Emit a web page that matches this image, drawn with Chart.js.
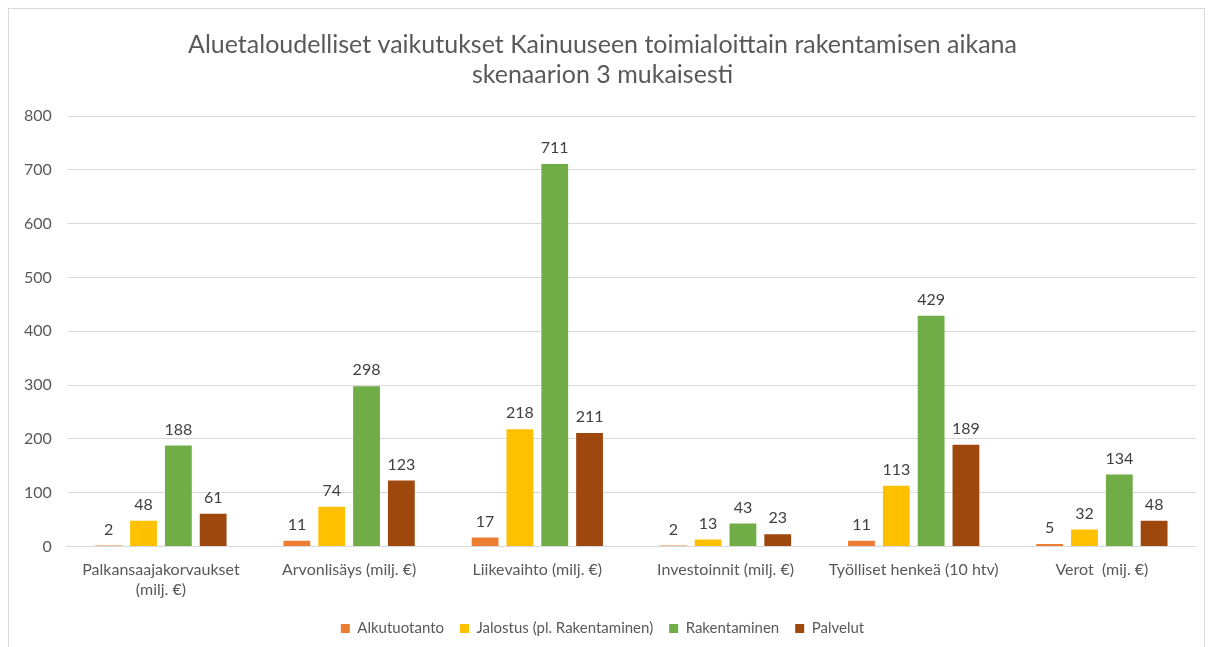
<!DOCTYPE html>
<html>
<head>
<meta charset="utf-8">
<script src="https://cdn.jsdelivr.net/npm/chart.js@4.4.1/dist/chart.umd.min.js"></script>
<style>
  body { margin: 0; background: #fff; overflow: hidden; }
  #box { position: absolute; left: 8px; top: 8px; width: 1197px; height: 645px; border: 1px solid #d9d9d9; box-sizing: border-box; }
  canvas { display: block; }
</style>
</head>
<body>
<div id="box"><canvas id="chart" width="1195" height="638"></canvas></div>
<script>
const categories = [
  ["Palkansaajakorvaukset", "(milj. €)"],
  "Arvonlisäys (milj. €)",
  "Liikevaihto (milj. €)",
  "Investoinnit (milj. €)",
  "Työlliset henkeä (10 htv)",
  "Verot  (mij. €)"
];
const alkutuotanto = [2, 11, 17, 2, 11, 5];
const jalostus = [48, 74, 218, 13, 113, 32];
const rakentaminen = [188, 298, 711, 43, 429, 134];
const palvelut = [61, 123, 211, 23, 189, 48];
const yTicks = [0, 100, 200, 300, 400, 500, 600, 700, 800];

const FONT = "Lato, 'Open Sans', sans-serif";

// value labels above each bar
const valueLabels = {
  id: "valueLabels",
  afterDatasetsDraw(chart) {
    const ctx = chart.ctx;
    ctx.save();
    ctx.font = "16px " + FONT;
    ctx.fillStyle = "#404040";
    ctx.textAlign = "center";
    ctx.textBaseline = "bottom";
    chart.data.datasets.forEach((ds, i) => {
      chart.getDatasetMeta(i).data.forEach((bar, j) => {
        ctx.fillText(ds.data[j], bar.x, bar.y - 8);
      });
    });
    ctx.restore();
  }
};

const ctx = document.getElementById("chart").getContext("2d");
new Chart(ctx, {
  type: "bar",
  data: {
    labels: categories,
    datasets: [
      { label: "Alkutuotanto", data: alkutuotanto, backgroundColor: "#ED7D31" },
      { label: "Jalostus (pl. Rakentaminen)", data: jalostus, backgroundColor: "#FFC000" },
      { label: "Rakentaminen", data: rakentaminen, backgroundColor: "#70AD47" },
      { label: "Palvelut", data: palvelut, backgroundColor: "#9E480E" }
    ]
  },
  options: {
    responsive: false,
    animation: false,
    devicePixelRatio: 1,
    layout: { padding: { left: 0, right: 8, top: 8, bottom: 1 } },
    datasets: { bar: { categoryPercentage: 0.74, barPercentage: 0.77 } },
    plugins: {
      title: {
        display: true,
        text: ["Aluetaloudelliset vaikutukset Kainuuseen toimialoittain rakentamisen aikana", "skenaarion 3 mukaisesti"],
        color: "#595959",
        font: { family: FONT, size: 25, weight: "normal", lineHeight: 1.2 },
        padding: { top: 13, bottom: 26 }
      },
      legend: {
        position: "bottom",
        labels: {
          color: "#595959",
          font: { family: FONT, size: 15 },
          boxWidth: 9,
          boxHeight: 9,
          padding: 16
        }
      },
      tooltip: { enabled: false }
    },
    scales: {
      x: {
        grid: { display: false },
        border: { color: "#d9d9d9", width: 1 },
        ticks: { color: "#595959", font: { family: FONT, size: 16 }, maxRotation: 0, autoSkip: false, padding: 6 }
      },
      y: {
        min: 0,
        max: 800,
        afterBuildTicks(axis) { axis.ticks = yTicks.map(v => ({ value: v })); },
        grid: { color: "#d9d9d9", drawTicks: false },
        border: { display: false },
        ticks: { color: "#595959", font: { family: FONT, size: 16 }, padding: 15 }
      }
    }
  },
  plugins: [valueLabels]
});
</script>
</body>
</html>
